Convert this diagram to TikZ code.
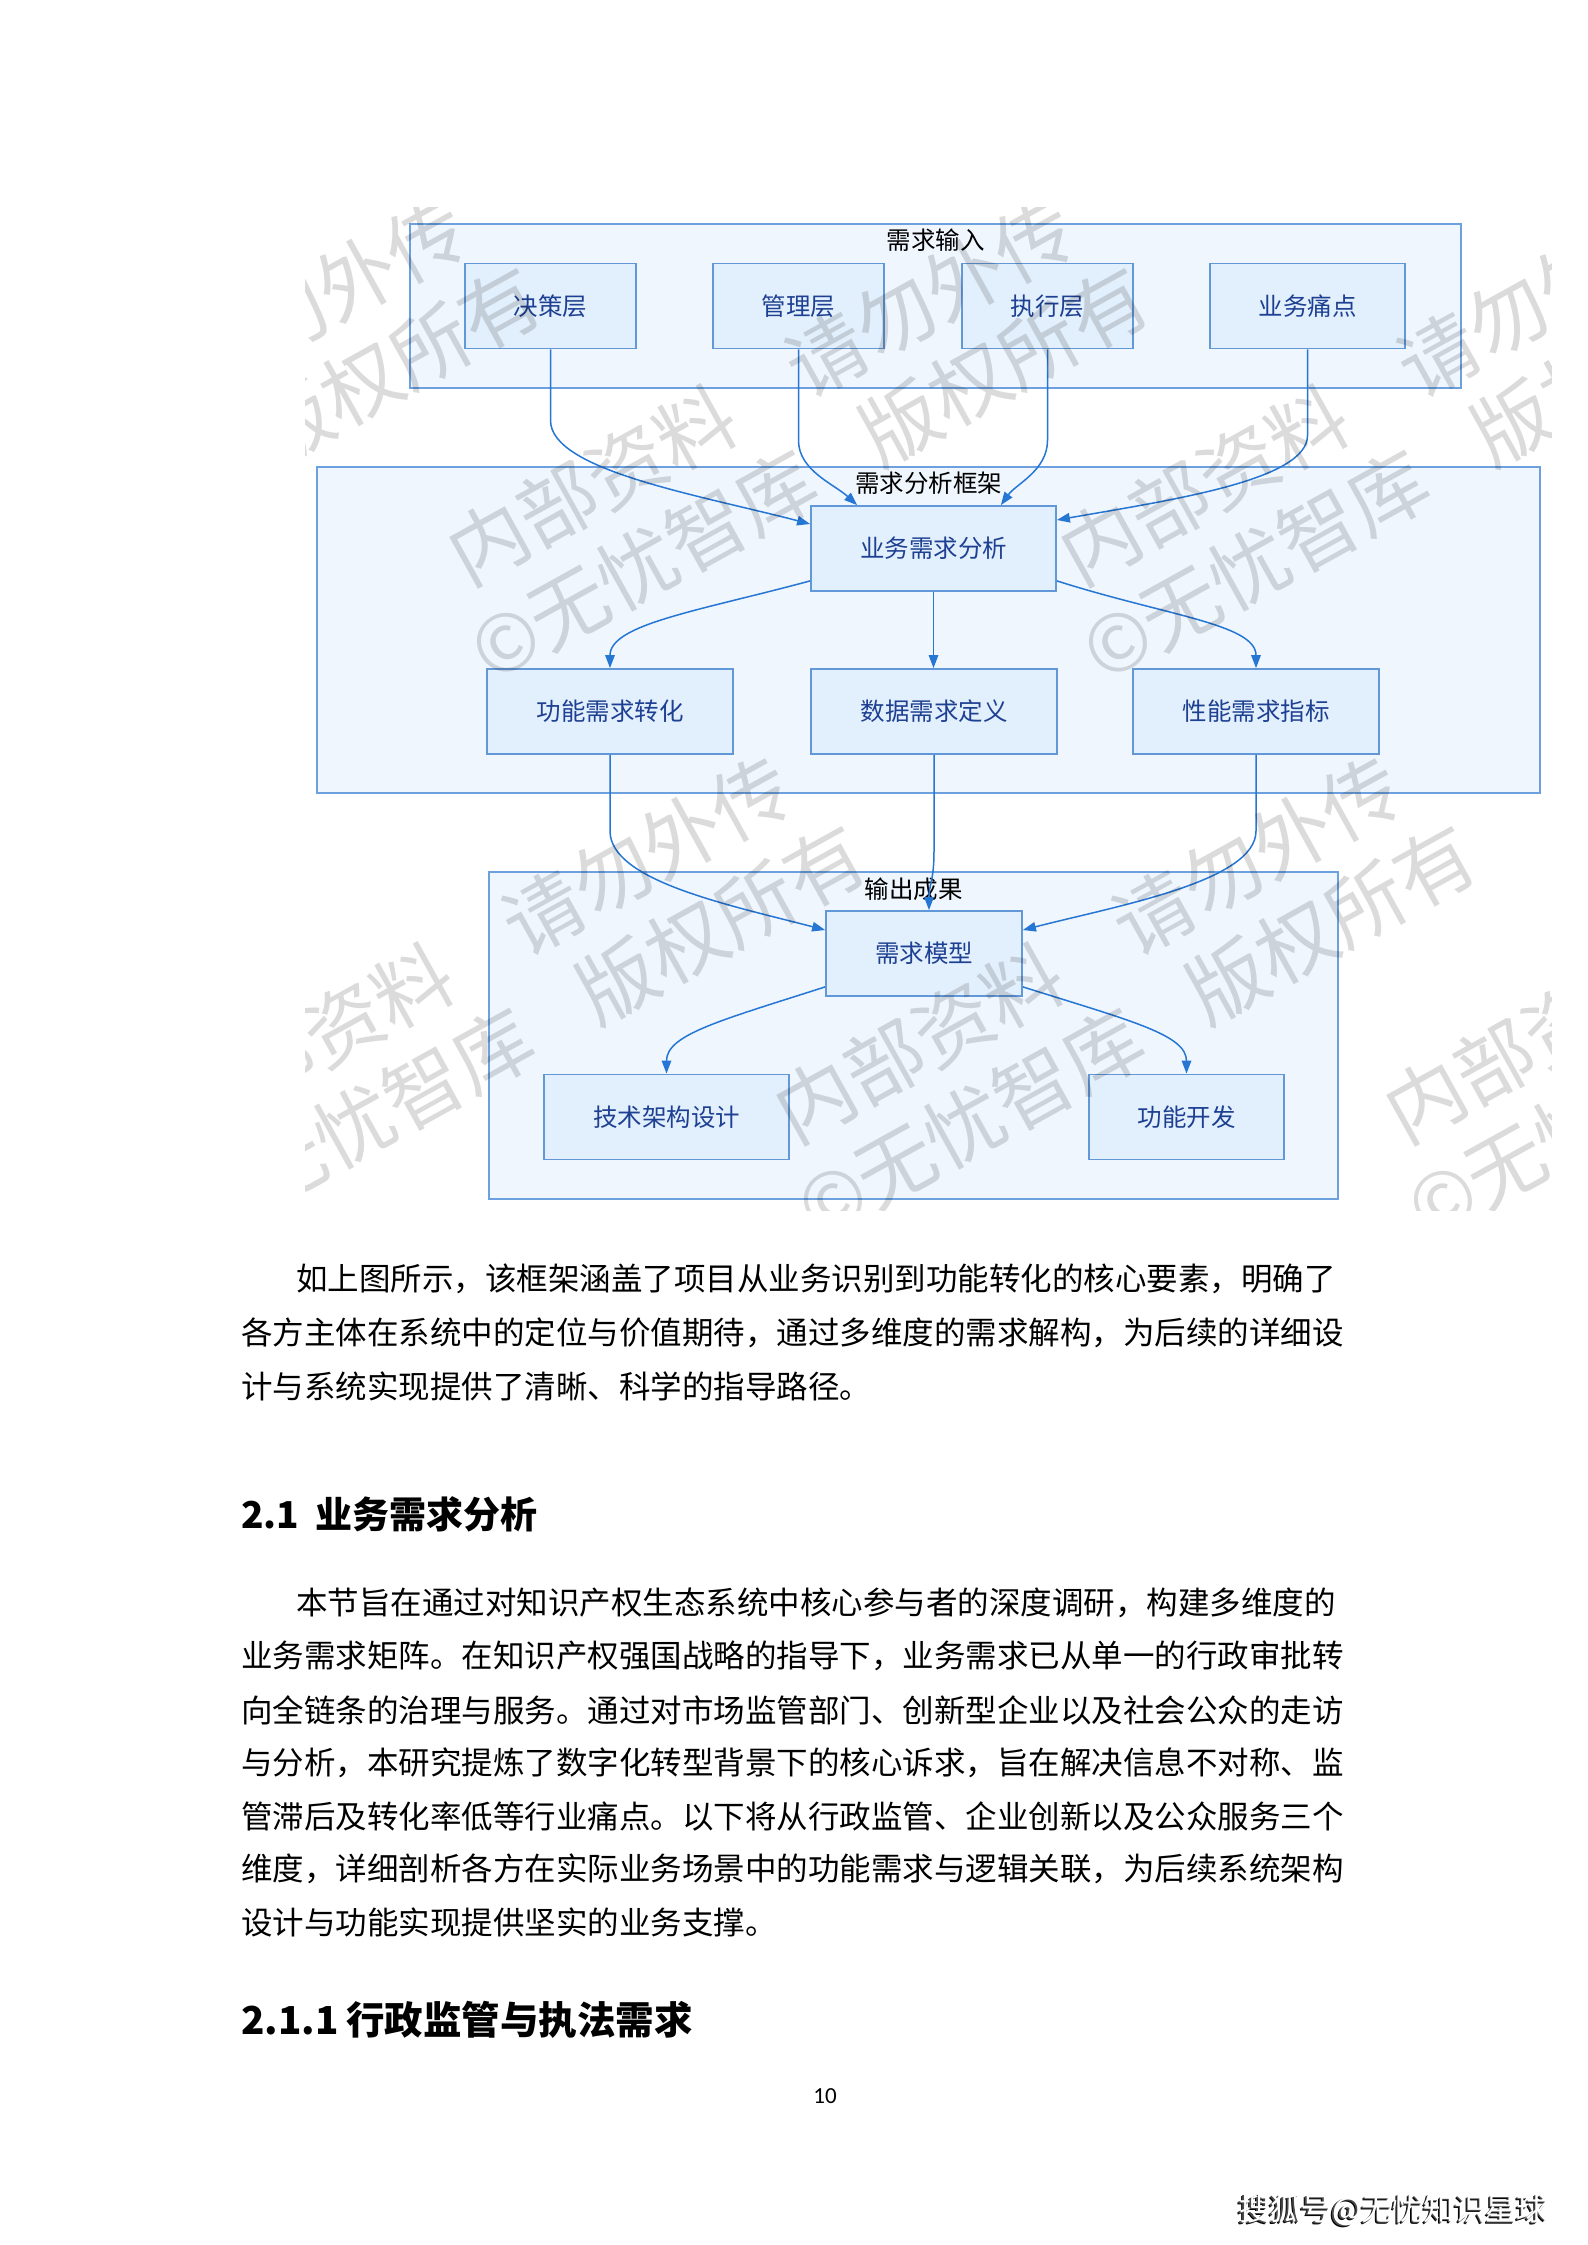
\documentclass[tikz,border=0pt]{standalone}
\usepackage{fontspec}
\setmainfont{Noto Sans CJK SC}
\newfontfamily\pagenumfont{Carlito}
\usetikzlibrary{arrows.meta,calc}
\definecolor{clfill}{RGB}{239,246,254}
\definecolor{cldraw}{RGB}{108,160,222}
\definecolor{ndfill}{RGB}{226,239,252}
\definecolor{nddraw}{RGB}{98,152,216}
\definecolor{ndtext}{RGB}{30,64,146}
\definecolor{edgec}{RGB}{38,118,212}
\tikzset{
  cluster/.style={draw=cldraw, fill=clfill, line width=2.5, inner sep=0},
  nd/.style={draw=nddraw, fill=ndfill, line width=1.8, text=ndtext, font=\fontsize{24.5}{28}\selectfont, inner sep=0, minimum height=85},
  cltitle/.style={font=\fontsize{24.5}{28}\selectfont, text=black, inner sep=0},
  edge/.style={draw=edgec, line width=1.5, -{Triangle[length=13,width=9.5]}},
  bodyline/.style={anchor=west, inner sep=0, font=\fontsize{31.5}{40}\selectfont},
  headline/.style={anchor=west, inner sep=0, font=\bfseries\fontsize{37}{42}\selectfont},
  wm/.style={anchor=base west, inner sep=0, rotate=29, text=black, text opacity=0.14, font=\fontsize{79}{84}\selectfont},
}
\newcommand\wmtile[3]{%
  \node[wm] (wa#3) at (#1,#2) {内部资料\hspace{0.9em}请勿外传};
  \node[wm] (wb#3) at ($(#1,#2)+(23,96)$) {©无忧智库\hspace{0.8em}版权所有};
}
\begin{document}
\begin{tikzpicture}[x=1pt,y=-1pt]
\useasboundingbox (0,0) rectangle (1587,2245);
\fill[white] (0,0) rectangle (1587,2245);

% clusters
\node[cluster, minimum width=1051, minimum height=164] (cin) at (935.5,306) {};
\node[cltitle] (tin) at ($(cin.north)+(0,17)$) {需求输入};
\node[cluster, minimum width=1223, minimum height=326] (cfx) at (928.5,630) {};
\node[cltitle] (tfx) at ($(cfx.north)+(0,17)$) {需求分析框架};
\node[cluster, minimum width=849, minimum height=327] (cout) at (913.5,1035.5) {};
\node[cltitle] (tout) at ($(cout.north)+(0,18)$) {输出成果};

% nodes
\node[nd, minimum width=171] (jc) at (550.5,306) {决策层};
\node[nd, minimum width=171] (gl) at (798.5,306) {管理层};
\node[nd, minimum width=171] (zx) at (1047.5,306) {执行层};
\node[nd, minimum width=195] (tp) at (1307.5,306) {业务痛点};
\node[nd, minimum width=245] (yw) at (933.5,548.5) {业务需求分析};
\node[nd, minimum width=246] (gn) at (610,711.5) {功能需求转化};
\node[nd, minimum width=246] (sj) at (934,711.5) {数据需求定义};
\node[nd, minimum width=246] (xn) at (1256,711.5) {性能需求指标};
\node[nd, minimum width=196] (mx) at (924,953.5) {需求模型};
\node[nd, minimum width=245] (js) at (666.5,1117) {技术架构设计};
\node[nd, minimum width=195] (kf) at (1186.5,1117) {功能开发};

% edges
\draw[edge] (jc.south) -- ($(jc.south)+(0,71)$) .. controls +(0,50) and +(-111,-29) .. ($(yw.west)+(0,-24.5)$);
\draw[edge] (gl.south) -- ($(gl.south)+(0,91)$) .. controls +(0,30) and +(-23,-21) .. ($(yw.north west)+(47,0)$);
\draw[edge] (zx.south) -- ($(zx.south)+(0,91)$) .. controls +(0,30) and +(15,-21) .. ($(yw.north east)+(-56,0)$);
\draw[edge] (tp.south) -- ($(tp.south)+(0,86)$) .. controls +(0,45) and +(114,-20) .. ($(yw.east)+(0,-28.5)$);
\draw[edge] ($(yw.south west)+(0,-11)$) .. controls +(-111,30) and +(0,-44) .. (gn.north);
\draw[edge] (yw.south) -- (yw.south |- sj.north);
\draw[edge] ($(yw.south east)+(0,-11)$) .. controls +(110,35) and +(0,-44) .. (xn.north);
\draw[edge] (gn.south) -- ($(gn.south)+(0,76)$) .. controls +(0,50) and +(-96,-25) .. ($(mx.west)+(0,-23.5)$);
\draw[edge] (sj.south) -- ($(sj.south)+(0,96)$) .. controls +(0,30) and +(0,-26) .. ($(mx.north)+(5,0)$);
\draw[edge] (xn.south) -- ($(xn.south)+(0,76)$) .. controls +(0,50) and +(98,-25) .. ($(mx.east)+(0,-23.5)$);
\draw[edge] ($(mx.south west)+(0,-10)$) .. controls +(-106,34) and +(0,-39) .. (js.north);
\draw[edge] ($(mx.south east)+(0,-10)$) .. controls +(108,34) and +(0,-39) .. (kf.north);

% diagonal watermark
\begin{scope}
\clip (305,208) rectangle (1551,1210);
\wmtile{-140}{588}{1}
\wmtile{468}{588}{2}
\wmtile{1080}{588}{3}
\wmtile{185}{1146}{4}
\wmtile{795}{1146}{5}
\wmtile{1405}{1146}{6}
\end{scope}

% body text
\node[bodyline] (p1a) at (296,1279) {如上图所示，该框架涵盖了项目从业务识别到功能转化的核心要素，明确了};
\node[bodyline] (p1b) at (241,1333) {各方主体在系统中的定位与价值期待，通过多维度的需求解构，为后续的详细设};
\node[bodyline] (p1c) at (241,1386) {计与系统实现提供了清晰、科学的指导路径。};

\node[headline] (h21) at (241,1514) {\makebox[74pt][l]{2.1}业务需求分析};

\node[bodyline] (p2a) at (296,1603) {本节旨在通过对知识产权生态系统中核心参与者的深度调研，构建多维度的};
\node[bodyline] (p2b) at (241,1656) {业务需求矩阵。在知识产权强国战略的指导下，业务需求已从单一的行政审批转};
\node[bodyline] (p2c) at (241,1710) {向全链条的治理与服务。通过对市场监管部门、创新型企业以及社会公众的走访};
\node[bodyline] (p2d) at (241,1763) {与分析，本研究提炼了数字化转型背景下的核心诉求，旨在解决信息不对称、监};
\node[bodyline] (p2e) at (241,1816) {管滞后及转化率低等行业痛点。以下将从行政监管、企业创新以及公众服务三个};
\node[bodyline] (p2f) at (241,1869) {维度，详细剖析各方在实际业务场景中的功能需求与逻辑关联，为后续系统架构};
\node[bodyline] (p2g) at (241,1922) {设计与功能实现提供坚实的业务支撑。};

\node[headline, font=\bfseries\fontsize{38.5}{42}\selectfont] (h211) at (241,2020) {\makebox[105pt][l]{2.1.1}行政监管与执法需求};

\node[inner sep=0, font=\pagenumfont\fontsize{23}{25}\selectfont] (pg) at (825,2096) {10};

% bottom-right source mark
\node[anchor=east, inner sep=0, text=black, font=\fontsize{31}{34}\selectfont] (shb) at (1545.5,2212.5) {搜狐号@无忧知识星球};
\node[anchor=east, inner sep=0, text=black!70, font=\fontsize{31}{34}\selectfont] (shc) at (1546.5,2211.5) {搜狐号@无忧知识星球};
\node[anchor=east, inner sep=0, text=white, font=\fontsize{31}{34}\selectfont] (sh) at (1548,2210) {搜狐号@无忧知识星球};
\end{tikzpicture}
\end{document}
